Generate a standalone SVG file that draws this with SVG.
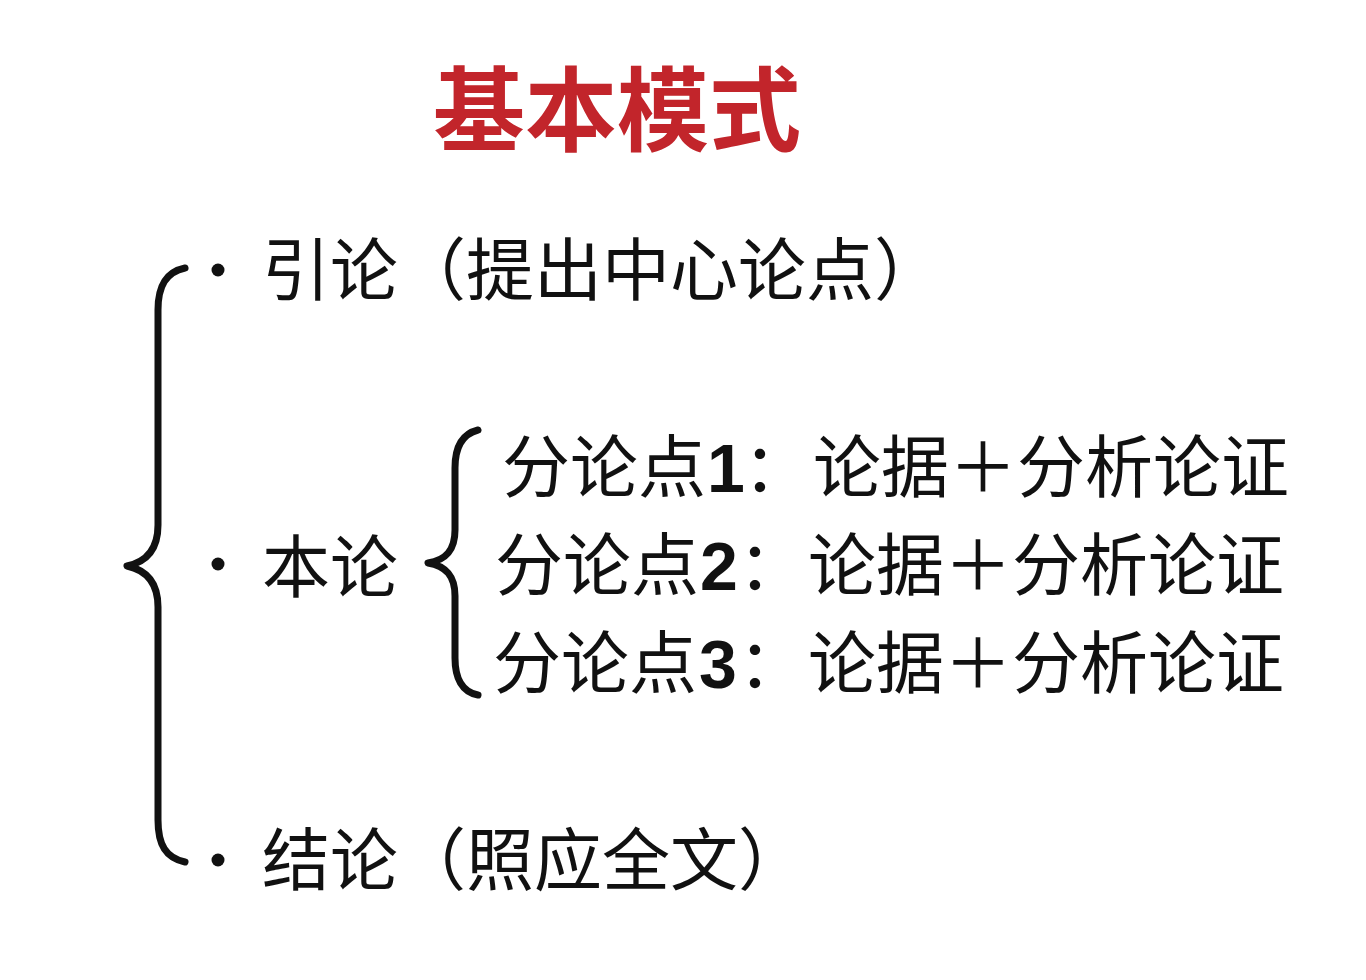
<svg xmlns="http://www.w3.org/2000/svg" width="1366" height="980" viewBox="0 0 1366 980">
<style>
.t{font-family:"Noto Sans CJK SC","Noto Sans",sans-serif;font-size:68px;fill:#111;}
.title{font-family:"Noto Sans CJK SC","Noto Sans",sans-serif;font-size:92px;font-weight:bold;fill:#c2252b;}
.num{font-family:"Liberation Sans","Noto Sans CJK SC",sans-serif;font-weight:bold;}
.brace{fill:none;stroke:#111;stroke-width:7;stroke-linecap:round;stroke-linejoin:round;}
.dot{fill:#111;}
</style>
<rect width="1366" height="980" fill="#fff"/>
<g id="title"><text class="title" x="617" y="144" text-anchor="middle">基本模式</text></g>
<g id="connectors">
<path class="brace" d="M185,268 C166,272 158,286 158,310 L158,525 C158,550 146,562 127,566 C146,570 158,582 158,607 L158,820 C158,845 166,858 185,862"/>
<path class="brace" d="M478,430 C462,434 455,448 455,468 L455,530 C455,550 446,560 428,563 C446,566 455,576 455,596 L455,658 C455,678 462,692 478,695"/>
</g>
<g id="intro"><circle class="dot" cx="218" cy="270" r="6.5"/><text class="t" x="262" y="295">引论（提出中心论点）</text></g>
<g id="body"><circle class="dot" cx="218" cy="564" r="6.5"/><text class="t" x="262" y="592">本论</text></g>
<g id="conclusion"><circle class="dot" cx="218" cy="860" r="6.5"/><text class="t" x="262" y="885">结论（照应全文）</text></g>
<g id="point1"><text class="t" y="492"><tspan x="502">分论点</tspan><tspan class="num" x="707">1</tspan><tspan x="743">：</tspan><tspan x="813">论据＋分析论证</tspan></text></g>
<g id="point2"><text class="t" y="590"><tspan x="495">分论点</tspan><tspan class="num" x="700">2</tspan><tspan x="738">：</tspan><tspan x="808">论据＋分析论证</tspan></text></g>
<g id="point3"><text class="t" y="688"><tspan x="493">分论点</tspan><tspan class="num" x="699">3</tspan><tspan x="738">：</tspan><tspan x="808">论据＋分析论证</tspan></text></g>
</svg>
